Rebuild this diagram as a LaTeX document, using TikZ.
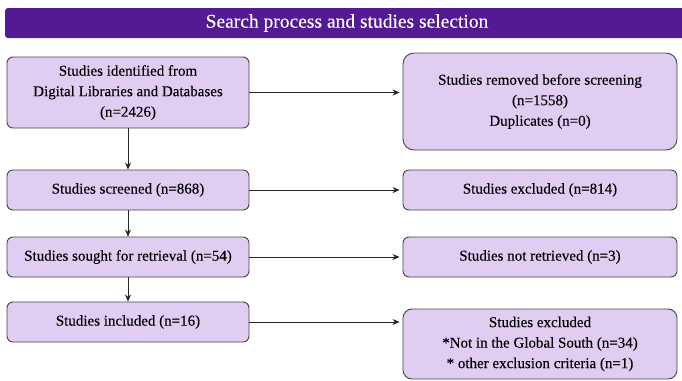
\documentclass[tikz,border=0pt]{standalone}
\usepackage{fontspec}
\setmainfont{Liberation Serif}[FakeBold=0.2]
\usetikzlibrary{arrows.meta}
\definecolor{boxfill}{HTML}{E1CCF2}
\definecolor{boxline}{HTML}{454545}
\definecolor{titlebar}{HTML}{531A93}
\begin{document}
\begin{tikzpicture}[x=1pt,y=-1pt,
  flowbox/.style={draw=boxline,fill=boxfill,line width=0.9pt,rounded corners=6pt,
    align=center,inner sep=2pt,font=\fontsize{15}{20.5}\selectfont,text=black},
  flowarrow/.style={-{Stealth[length=7pt,width=6pt]},line width=0.8pt,draw=black!85,shorten >=3pt}]
\useasboundingbox (0,0) rectangle (682,380);
% title bar
\path[fill=titlebar,rounded corners=3pt] (5,8) rectangle (690,38);
\node[text=white,font=\fontsize{19.5}{22}\selectfont] (title) at (347,23) {Search process and studies selection};
% left column
\node[flowbox,minimum width=242pt,minimum height=71pt] (b1) at (128,92.5)
  {Studies identified from\\Digital Libraries and Databases\\(n=2426)};
\node[flowbox,minimum width=242pt,minimum height=40pt] (b2) at (128,190) {Studies screened (n=868)};
\node[flowbox,minimum width=242pt,minimum height=40pt] (b3) at (128,257) {Studies sought for retrieval (n=54)};
\node[flowbox,minimum width=242pt,minimum height=40pt] (b4) at (128,322) {Studies included (n=16)};
% right column
\node[flowbox,rounded corners=11pt,minimum width=274pt,minimum height=97pt] (r1) at (540,101.5)
  {Studies removed before screening\\(n=1558)\\Duplicates (n=0)};
\node[flowbox,minimum width=274pt,minimum height=40pt] (r2) at (540,190) {Studies excluded (n=814)};
\node[flowbox,minimum width=274pt,minimum height=40pt] (r3) at (540,257) {Studies not retrieved (n=3)};
\node[flowbox,rounded corners=9pt,minimum width=274pt,minimum height=70pt] (r4) at (540,344)
  {Studies excluded\\*Not in the Global South (n=34)\\* other exclusion criteria (n=1)};
% vertical arrows
\draw[flowarrow,shorten >=0pt] (b1) -- (b2);
\draw[flowarrow,shorten >=0pt] (b2) -- (b3);
\draw[flowarrow,shorten >=0pt] (b3) -- (b4);
% horizontal arrows
\draw[flowarrow] (b1.east) -- (b1.east -| r1.west);
\draw[flowarrow] (b2.east) -- (b2.east -| r2.west);
\draw[flowarrow] (b3.east) -- (b3.east -| r3.west);
\draw[flowarrow] (b4.east) -- (b4.east -| r4.west);
\end{tikzpicture}
\end{document}
